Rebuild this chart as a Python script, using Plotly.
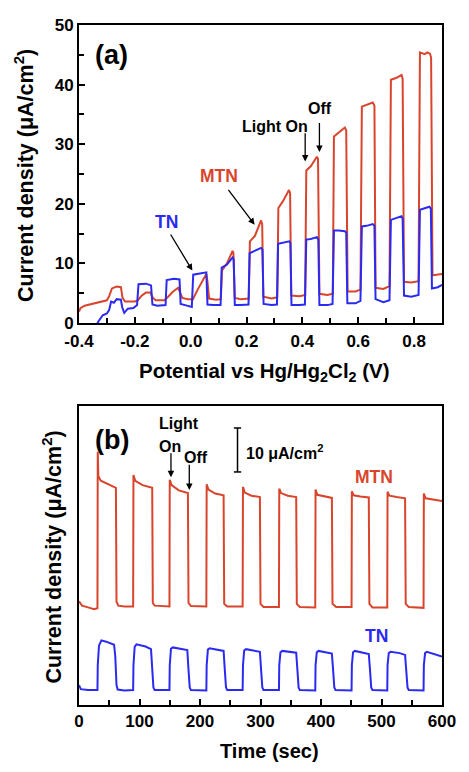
import plotly.graph_objects as go

# ---------------- Panel (a): chopped-light LSV ----------------
MTN_V = [-0.400, -0.395, -0.380, -0.350, -0.320, -0.300, -0.292, -0.282, -0.265, -0.250,
         -0.244, -0.235, -0.200, -0.190, -0.175, -0.160, -0.145, -0.135, -0.125, -0.095,
         -0.085, -0.065, -0.045, -0.038, -0.030, -0.010, 0.008, 0.025, 0.045, 0.056,
         0.060, 0.066, 0.090, 0.108, 0.112, 0.130, 0.150, 0.153, 0.158, 0.180,
         0.208, 0.212, 0.230, 0.252, 0.256, 0.260, 0.290, 0.310, 0.314, 0.330,
         0.352, 0.356, 0.360, 0.390, 0.410, 0.414, 0.430, 0.452, 0.456, 0.461,
         0.490, 0.509, 0.513, 0.530, 0.552, 0.557, 0.562, 0.590, 0.608, 0.613,
         0.630, 0.652, 0.658, 0.662, 0.690, 0.712, 0.717, 0.735, 0.755, 0.759,
         0.764, 0.790, 0.816, 0.821, 0.838, 0.848, 0.857, 0.861, 0.866, 0.900]
MTN_J = [1.9, 2.5, 2.9, 3.2, 3.5, 3.8, 4.5, 5.8, 6.1, 6.0,
         4.2, 3.6, 3.6, 3.8, 4.6, 5.1, 5.1, 4.2, 3.8, 3.8,
         4.2, 5.2, 5.9, 5.0, 4.2, 4.0, 4.0, 5.6, 7.4, 8.2,
         7.0, 4.1, 3.9, 4.0, 8.8, 10.0, 12.1, 11.8, 4.2, 4.0,
         4.1, 13.7, 14.6, 17.2, 16.6, 4.4, 4.1, 4.3, 19.3, 20.4,
         22.3, 21.8, 4.6, 4.5, 4.7, 25.6, 26.3, 27.9, 27.5, 4.9,
         4.7, 4.9, 31.3, 31.9, 32.8, 32.3, 5.3, 5.3, 5.6, 36.3,
         36.6, 37.0, 36.5, 5.9, 5.7, 6.2, 40.8, 41.1, 41.6, 41.0,
         6.9, 6.8, 7.0, 45.4, 45.1, 45.4, 45.2, 44.5, 8.0, 8.2]

TN_V = [-0.345, -0.330, -0.315, -0.300, -0.292, -0.285, -0.275, -0.265, -0.250, -0.245,
        -0.238, -0.225, -0.205, -0.192, -0.187, -0.160, -0.142, -0.137, -0.120, -0.090,
        -0.086, -0.060, -0.040, -0.036, -0.020, 0.004, 0.009, 0.030, 0.056, 0.060,
        0.080, 0.107, 0.111, 0.130, 0.150, 0.154, 0.158, 0.180, 0.207, 0.211,
        0.230, 0.252, 0.257, 0.261, 0.290, 0.309, 0.313, 0.330, 0.353, 0.357,
        0.361, 0.390, 0.409, 0.414, 0.430, 0.452, 0.457, 0.461, 0.490, 0.508,
        0.513, 0.530, 0.552, 0.557, 0.561, 0.590, 0.608, 0.613, 0.630, 0.652,
        0.658, 0.662, 0.690, 0.712, 0.717, 0.735, 0.755, 0.759, 0.764, 0.790,
        0.816, 0.821, 0.838, 0.855, 0.860, 0.864, 0.885, 0.900]
TN_J = [-1.0, 0.3, 1.3, 1.6, 2.2, 3.6, 3.4, 4.0, 3.9, 2.6,
        1.7, 2.4, 2.5, 3.0, 6.5, 6.6, 6.3, 3.1, 2.9, 3.0,
        7.2, 7.4, 7.3, 3.2, 3.0, 2.7, 8.1, 8.3, 8.5, 3.1,
        3.0, 3.0, 9.3, 9.8, 11.0, 10.7, 3.0, 3.0, 3.1, 11.7,
        12.1, 12.6, 12.3, 3.2, 3.0, 3.1, 13.3, 13.5, 13.7, 13.4,
        3.0, 3.0, 3.1, 14.0, 14.1, 14.4, 14.0, 3.0, 3.0, 3.2,
        15.5, 15.5, 15.4, 15.2, 3.3, 3.3, 3.7, 16.2, 16.3, 16.6,
        16.3, 4.0, 3.5, 3.8, 17.3, 17.6, 17.9, 17.5, 4.6, 4.4,
        4.7, 19.0, 19.2, 19.5, 19.2, 5.8, 6.0, 6.4]

A_XTICKS = [-0.4, -0.2, 0.0, 0.2, 0.4, 0.6, 0.8]
A_XTICKTEXT = ["-0.4", "-0.2", "0.0", "0.2", "0.4", "0.6", "0.8"]
A_YTICKS = [0, 10, 20, 30, 40, 50]

# ---------------- Panel (b): transient photocurrent ----------------
MTN_T = [0, 5, 15, 25, 30.5, 31, 32, 36, 50, 61,
         62, 65, 75, 89.5, 90, 93, 105, 121, 122, 125,
         149.5, 150, 153, 165, 180, 181, 185, 210.5, 211, 214,
         225, 239, 240, 245, 270.5, 271, 274, 285, 299, 300,
         305, 330.5, 331, 334, 345, 359, 360, 365, 390.5, 391,
         394, 405, 418, 419, 425, 450.5, 451, 454, 465, 479,
         480, 485, 509.5, 510, 513, 525, 539, 540, 545, 569.5,
         570, 573, 585, 600]
MTN_I = [23.6, 22.6, 22.2, 21.8, 22.0, 57.6, 52.0, 51.0, 50.0, 49.4,
         23.5, 22.6, 22.4, 22.4, 52.3, 51.0, 50.0, 49.4, 23.2, 22.6,
         22.4, 51.2, 50.0, 48.8, 48.2, 23.2, 22.5, 22.4, 50.2, 49.0,
         48.1, 47.7, 23.0, 22.4, 22.4, 49.6, 48.3, 47.6, 47.3, 23.0,
         22.3, 22.3, 49.2, 48.2, 47.6, 47.3, 23.0, 22.3, 22.2, 49.0,
         47.8, 47.4, 47.1, 23.0, 22.3, 22.3, 48.6, 47.7, 47.4, 47.2,
         23.0, 22.2, 22.2, 48.5, 47.6, 47.3, 47.0, 23.0, 22.3, 22.1,
         48.1, 47.0, 46.8, 46.4]

TN_T = [0, 3, 15, 30.5, 31, 33, 37, 45, 58, 60,
        62, 64, 75, 89.5, 90, 92, 95, 110, 119, 121,
        123, 125, 149.5, 150, 152, 155, 170, 179, 181, 183,
        185, 210.5, 211, 213, 216, 230, 239, 241, 243, 245,
        270.5, 271, 273, 276, 290, 299, 301, 303, 305, 330.5,
        331, 333, 336, 350, 359, 361, 363, 365, 390.5, 391,
        393, 396, 410, 418, 420, 422, 424, 450.5, 451, 453,
        456, 470, 479, 481, 483, 485, 509.5, 510, 512, 515,
        530, 539, 541, 543, 545, 569.5, 570, 572, 575, 590,
        600]
TN_I = [4.5, 3.6, 3.4, 3.4, 9.0, 13.5, 14.7, 14.4, 13.7, 11.0,
        4.5, 3.5, 3.3, 3.4, 9.0, 13.2, 13.8, 13.3, 12.7, 9.0,
        4.0, 3.4, 3.4, 9.0, 12.8, 13.1, 12.8, 12.5, 8.0, 4.0,
        3.4, 3.3, 9.0, 12.6, 12.9, 12.6, 12.3, 8.0, 4.0, 3.4,
        3.4, 9.0, 12.4, 12.7, 12.4, 12.1, 8.0, 4.0, 3.4, 3.4,
        9.0, 12.0, 12.3, 12.1, 11.9, 8.0, 4.0, 3.4, 3.3, 9.0,
        12.0, 12.3, 12.0, 11.7, 8.0, 4.0, 3.4, 3.3, 9.0, 12.0,
        12.3, 11.9, 11.6, 8.0, 4.0, 3.4, 3.3, 9.0, 11.8, 12.1,
        11.8, 11.4, 8.0, 4.0, 3.4, 3.3, 9.0, 11.8, 12.1, 11.5,
        11.0]

B_XTICKS = [0, 100, 200, 300, 400, 500, 600]
SCALE_BAR_T = 262
SCALE_BAR_LO, SCALE_BAR_HI = 53.0, 63.0

RED = "#d8452c"
BLUE = "#2a2af0"
FONT = "Arial, Liberation Sans, sans-serif"

fig = go.Figure()
fig.add_trace(go.Scatter(x=MTN_V, y=MTN_J, mode="lines", line=dict(color=RED, width=2),
                         xaxis="x", yaxis="y", showlegend=False))
fig.add_trace(go.Scatter(x=TN_V, y=TN_J, mode="lines", line=dict(color=BLUE, width=2),
                         xaxis="x", yaxis="y", showlegend=False))
fig.add_trace(go.Scatter(x=MTN_T, y=MTN_I, mode="lines", line=dict(color=RED, width=2),
                         xaxis="x2", yaxis="y2", showlegend=False))
fig.add_trace(go.Scatter(x=TN_T, y=TN_I, mode="lines", line=dict(color=BLUE, width=2),
                         xaxis="x2", yaxis="y2", showlegend=False))

axis_common = dict(showline=True, linewidth=2, linecolor="black", mirror=True,
                   showgrid=False, zeroline=False, ticks="inside", ticklen=6,
                   tickwidth=1.5, tickcolor="black",
                   tickfont=dict(family=FONT, size=17, color="black", weight="bold"))

fig.update_layout(
    width=469, height=772, autosize=False,
    margin=dict(l=79, r=27, t=25, b=67),
    paper_bgcolor="white", plot_bgcolor="white",
    xaxis=dict(domain=[0, 1], anchor="y", range=[-0.4, 0.9],
               tickvals=A_XTICKS, ticktext=A_XTICKTEXT, ticklabelstandoff=2,
               minor=dict(dtick=0.1, tick0=-0.4, ticks="inside", ticklen=5,
                          tickwidth=1.5, tickcolor="black"),
               **axis_common),
    yaxis=dict(domain=[0.5618, 1], anchor="x", range=[0, 50], tickvals=A_YTICKS,
               minor=dict(dtick=5, tick0=0, ticks="inside", ticklen=5,
                          tickwidth=1.5, tickcolor="black"),
               **axis_common),
    xaxis2=dict(domain=[0, 1], anchor="y2", range=[0, 600], tickvals=B_XTICKS,
                minor=dict(dtick=50, tick0=0, ticks="inside", ticklen=5,
                           tickwidth=1.5, tickcolor="black"),
                **axis_common),
    yaxis2=dict(domain=[0, 0.4397], anchor="x2", range=[0, 68],
                showline=True, linewidth=2, linecolor="black", mirror=True,
                showgrid=False, zeroline=False, ticks="", showticklabels=False),
)

def txt(x, y, text, size, color="black", xref="paper", yref="paper", xanchor="center",
        yanchor="middle", angle=0):
    fig.add_annotation(x=x, y=y, xref=xref, yref=yref, text=text, showarrow=False,
                       xanchor=xanchor, yanchor=yanchor, textangle=angle,
                       font=dict(family=FONT, size=size, color=color, weight="bold"))

def arrow(x, y, ax, ay, xref, yref):
    fig.add_annotation(x=x, y=y, ax=ax, ay=ay, xref=xref, yref=yref,
                       axref=xref, ayref=yref, text="", showarrow=True,
                       arrowhead=2, arrowsize=1, arrowwidth=1.3, arrowcolor="black")

# axis titles
txt(0.51, 0.489, "Potential vs Hg/Hg<sub>2</sub>Cl<sub>2</sub> (V)", 20.5)
txt(-0.152, 0.779, "Current density (\u03bcA/cm<sup>2</sup>)", 21.5, angle=-90)
txt(0.526, -0.068, "Time (sec)", 20)
txt(-0.074, 0.217, "Current density (\u03bcA/cm<sup>2</sup>)", 21.5, angle=-90)

# panel (a) labels
txt(-0.282, 45.0, "(a)", 27, xref="x", yref="y")
txt(0.302, 33.0, "Light On", 16, xref="x", yref="y")
txt(0.464, 36.0, "Off", 16, xref="x", yref="y")
txt(0.10, 24.6, "MTN", 17.5, color=RED, xref="x", yref="y")
txt(-0.086, 17.0, "TN", 17.5, color=BLUE, xref="x", yref="y")
arrow(0.229, 16.5, 0.131, 22.6, "x", "y")
arrow(0.006, 8.8, -0.075, 15.1, "x", "y")
arrow(0.41, 27.1, 0.41, 32.1, "x", "y")
arrow(0.461, 28.7, 0.461, 33.8, "x", "y")

# panel (b) labels
txt(54.5, 60.2, "(b)", 27, xref="x2", yref="y2")
txt(165.3, 64.1, "Light", 16, xref="x2", yref="y2")
txt(150.4, 58.9, "On", 16, xref="x2", yref="y2")
txt(194.0, 56.4, "Off", 16, xref="x2", yref="y2")
txt(273.0, 57.5, "10 \u03bcA/cm<sup>2</sup>", 16, xref="x2", yref="y2", xanchor="left")
txt(487.6, 51.9, "MTN", 17.5, color=RED, xref="x2", yref="y2")
txt(492.0, 15.7, "TN", 17.5, color=BLUE, xref="x2", yref="y2")
arrow(152, 51.8, 152, 57.6, "x2", "y2")
arrow(182.3, 48.9, 182.3, 55.0, "x2", "y2")

# scale bar
fig.add_shape(type="line", xref="x2", yref="y2", x0=SCALE_BAR_T, x1=SCALE_BAR_T,
              y0=SCALE_BAR_LO, y1=SCALE_BAR_HI, line=dict(color="black", width=1.5))
for yv in (SCALE_BAR_LO, SCALE_BAR_HI):
    fig.add_shape(type="line", xref="x2", yref="y2", x0=SCALE_BAR_T - 6, x1=SCALE_BAR_T + 6,
                  y0=yv, y1=yv, line=dict(color="black", width=1.5))

fig.write_html("out.html")
